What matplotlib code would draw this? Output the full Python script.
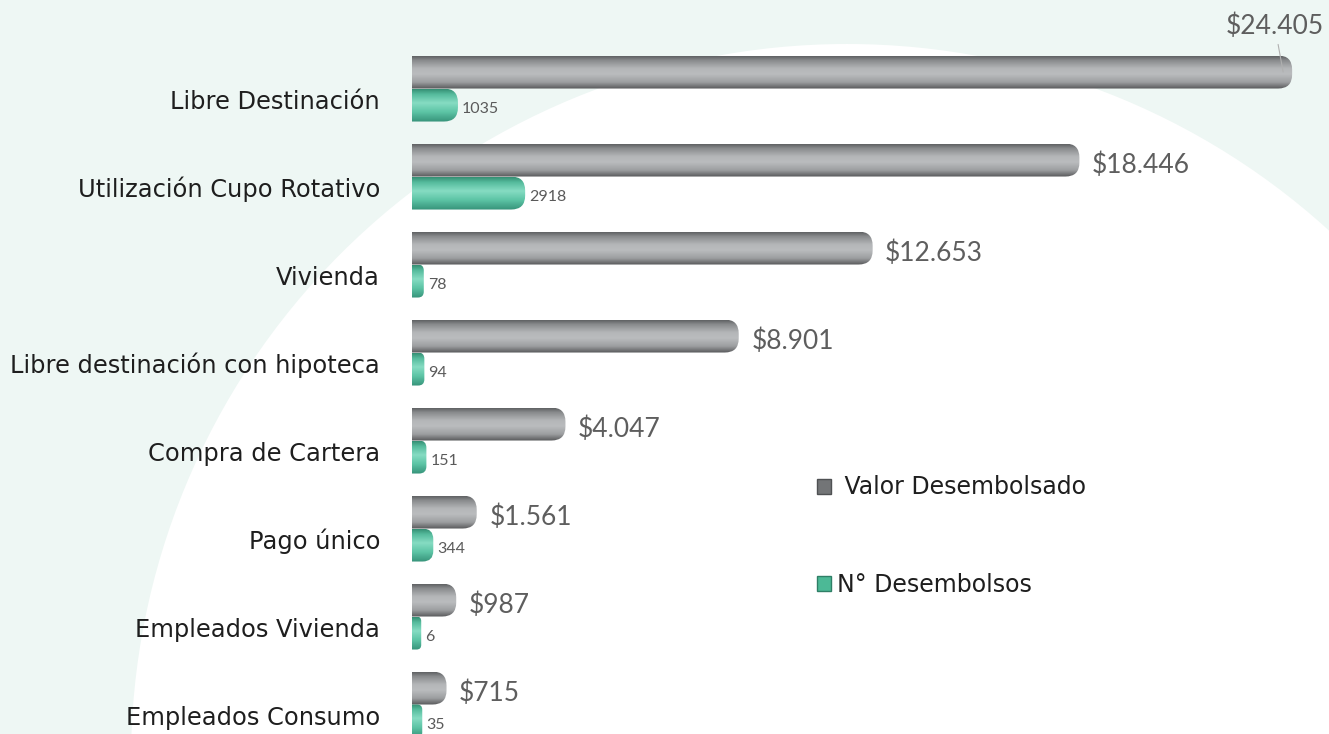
import numpy as np
import matplotlib
matplotlib.use("Agg")
import matplotlib.pyplot as plt
from matplotlib.patches import FancyBboxPatch, Circle, Patch
from matplotlib.colors import LinearSegmentedColormap

categories = ["Libre Destinación", "Utilización Cupo Rotativo", "Vivienda",
              "Libre destinación con hipoteca", "Compra de Cartera", "Pago único",
              "Empleados Vivienda", "Empleados Consumo"]
valor = [24405, 18446, 12653, 8901, 4047, 1561, 987, 715]
numero = [1035, 2918, 78, 94, 151, 344, 6, 35]
series_names = [" Valor Desembolsado", "N° Desembolsos"]

W, H, DPI = 1329, 734, 100
fig = plt.figure(figsize=(W / DPI, H / DPI), dpi=DPI, facecolor="#eef7f4")
# big white circle in the background
fig.patches.append(Circle((8.47, -0.26), 7.16, transform=fig.dpi_scale_trans,
                          facecolor="white", edgecolor="none", zorder=-10))

ax = fig.add_axes([412 / W, 0, 917 / W, 1])
ax.set_facecolor("none")

y = np.arange(len(categories))
h = 0.375
ax.set_xlim(0, 25690)
ax.set_ylim(7.335, -1.006)

grey_bars = ax.barh(y - h / 2, valor, height=h, color="none")
teal_bars = ax.barh(y + h / 2, numero, height=h, color="none")

fig.canvas.draw()
px_x = ax.transData.transform((1, 0))[0] - ax.transData.transform((0, 0))[0]
px_y = abs(ax.transData.transform((0, 1))[1] - ax.transData.transform((0, 0))[1])
aspect = (1 / px_y) / (1 / px_x)

grey_cmap = LinearSegmentedColormap.from_list("g", [
    (0, "#606264"), (0.12, "#888a8c"), (0.38, "#b5b7b9"), (0.55, "#babcbe"),
    (0.8, "#9c9ea0"), (1, "#58595b")])
teal_cmap = LinearSegmentedColormap.from_list("t", [
    (0, "#368f74"), (0.15, "#55bb9c"), (0.42, "#86dcc3"), (0.7, "#5cc4a5"),
    (1, "#37937a")])
grad = np.linspace(0, 1, 64).reshape(-1, 1)


def pill(bar, cmap):
    cap = 9 / px_x
    r_px = 14
    x0, y0, w, hh = bar.get_x(), bar.get_y(), bar.get_width(), bar.get_height()
    r = min(r_px / px_x, (w + cap) / 2)
    left = x0 - r
    width = w + cap + r
    p = FancyBboxPatch((left, y0), width, hh,
                       boxstyle=f"round,pad=0,rounding_size={r}",
                       mutation_aspect=aspect, facecolor="none", edgecolor="none")
    ax.add_patch(p)
    im = ax.imshow(grad, extent=(left, left + width, y0 + hh, y0), origin="upper",
                   cmap=cmap, aspect="auto", interpolation="bilinear")
    im.set_clip_path(p)


for b in grey_bars:
    pill(b, grey_cmap)
for b in teal_bars:
    pill(b, teal_cmap)

ax.set_xlim(0, 25690)
ax.set_ylim(7.335, -1.006)

lab_font = "Lato"
for i, v in enumerate(valor):
    txt = "$" + f"{v:,}".replace(",", ".")
    if i == 0:
        ax.annotate(txt, xy=(v, y[i] - h / 2), xytext=(-6, 33), textcoords="offset points",
                    ha="center", va="center", fontsize=19, color="#5e5e5e", family=lab_font,
                    arrowprops=dict(arrowstyle="-", color="#b0b0b0", lw=0.8,
                                    shrinkA=2, shrinkB=0))
    else:
        ax.annotate(txt, xy=(v, y[i] - h / 2), xytext=(15.5, -3.6), textcoords="offset points",
                    ha="left", va="center", fontsize=19, color="#5e5e5e", family=lab_font)

for i, v in enumerate(numero):
    ax.annotate(str(v), xy=(v, y[i] + h / 2), xytext=(9.4, -2.9), textcoords="offset points",
                ha="left", va="center", fontsize=11.5, color="#5a5a5a", family=lab_font)

ax.set_yticks(y + 0.12)
ax.set_yticklabels(categories, fontsize=17.4, color="#1e1e1e", family="DejaVu Sans")
ax.tick_params(axis="y", length=0, pad=23)
ax.set_xticks([])
for s in ax.spines.values():
    s.set_visible(False)

handles = [Patch(facecolor="#737577", edgecolor="#4f5153", lw=1),
           Patch(facecolor="#4cb996", edgecolor="#2f7f66", lw=1)]
ax.legend(handles, series_names, loc="center left", bbox_to_anchor=(0.429, 1 - 536 / H),
          frameon=False, fontsize=17, labelspacing=3.1, handlelength=0.6, handleheight=0.6,
          handletextpad=0.25, borderpad=0, labelcolor="#1e1e1e")

fig.savefig("out.png", dpi=DPI, facecolor=fig.get_facecolor())
